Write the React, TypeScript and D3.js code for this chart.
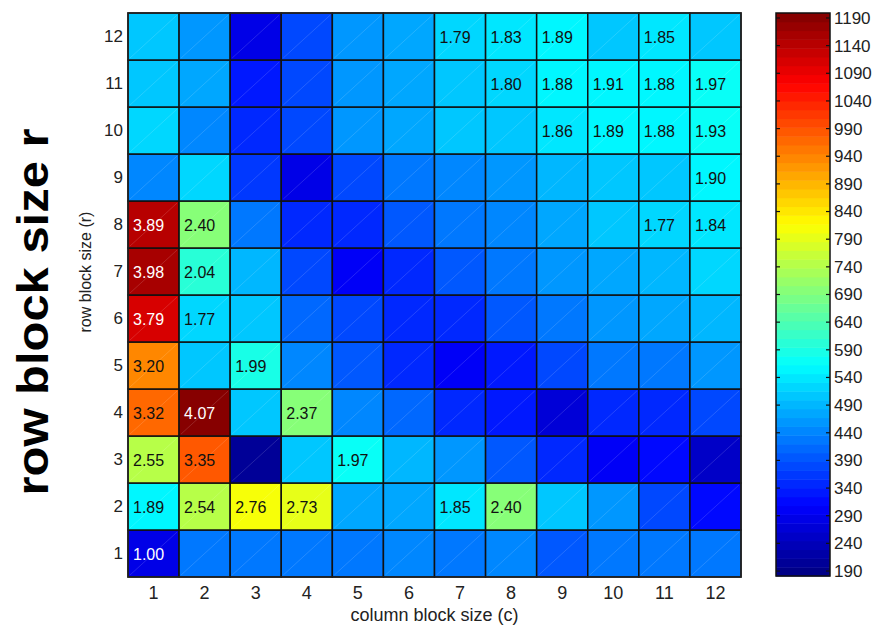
import * as d3 from 'd3';

// block sizes along each axis
const colSizes = [1, 2, 3, 4, 5, 6, 7, 8, 9, 10, 11, 12];
const rowSizes = [1, 2, 3, 4, 5, 6, 7, 8, 9, 10, 11, 12];

// Mflop/s per (r, c), row r = 1 first
const mflops = [
  [292, 422, 422, 422, 430, 440, 430, 440, 394, 422, 422, 422],
  [552, 742, 806, 797, 470, 480, 545, 701, 500, 460, 374, 320],
  [745, 978, 200, 510, 575, 490, 452, 394, 355, 305, 315, 260],
  [969, 1188, 510, 692, 440, 412, 355, 330, 265, 355, 345, 384],
  [934, 510, 581, 440, 400, 355, 300, 335, 374, 420, 430, 452],
  [1107, 517, 515, 412, 374, 355, 355, 394, 422, 462, 470, 490],
  [1162, 596, 495, 374, 305, 355, 394, 430, 452, 480, 485, 520],
  [1136, 701, 430, 355, 345, 400, 420, 440, 480, 512, 517, 537],
  [440, 520, 364, 290, 384, 422, 442, 452, 490, 500, 515, 555],
  [520, 440, 345, 374, 452, 480, 500, 510, 545, 555, 552, 566],
  [515, 480, 335, 374, 452, 475, 500, 526, 552, 560, 552, 577],
  [515, 452, 288, 380, 452, 480, 523, 534, 555, 510, 540, 515],
];

// speedup labels shown in the cells (null = none)
const speedups: (string | null)[][] = [
  ['1.00', null, null, null, null, null, null, null, null, null, null, null],
  ['1.89', '2.54', '2.76', '2.73', null, null, '1.85', '2.40', null, null, null, null],
  ['2.55', '3.35', null, null, '1.97', null, null, null, null, null, null, null],
  ['3.32', '4.07', null, '2.37', null, null, null, null, null, null, null, null],
  ['3.20', null, '1.99', null, null, null, null, null, null, null, null, null],
  ['3.79', '1.77', null, null, null, null, null, null, null, null, null, null],
  ['3.98', '2.04', null, null, null, null, null, null, null, null, null, null],
  ['3.89', '2.40', null, null, null, null, null, null, null, null, '1.77', '1.84'],
  [null, null, null, null, null, null, null, null, null, null, null, '1.90'],
  [null, null, null, null, null, null, null, null, '1.86', '1.89', '1.88', '1.93'],
  [null, null, null, null, null, null, null, '1.80', '1.88', '1.91', '1.88', '1.97'],
  [null, null, null, null, null, null, '1.79', '1.83', '1.89', null, '1.85', null],
];

const colorTicks = [190, 240, 290, 340, 390, 440, 490, 540, 590, 640, 690, 740, 790, 840, 890, 940, 990, 1040, 1090, 1140, 1190];
const cMin = 181;
const cMax = 1199;
const nLevels = 64;

const FONT = '"Liberation Sans", Arial, Helvetica, sans-serif';

const clamp = (v: number) => Math.max(0, Math.min(1, v));
const jet = (t: number) => {
  const r = clamp(1.5 - Math.abs(4 * t - 3));
  const g = clamp(1.5 - Math.abs(4 * t - 2));
  const b = clamp(1.5 - Math.abs(4 * t - 1));
  return d3.rgb(r * 255, g * 255, b * 255).formatHex();
};
const levelOf = (v: number) => {
  const t = (v - cMin) / (cMax - cMin);
  return Math.max(0, Math.min(nLevels - 1, Math.floor(t * nLevels)));
};
const colorOf = (v: number) => jet((levelOf(v) + 0.5) / nLevels);

export default function App() {
  const W = 879;
  const H = 628;
  const plot = { left: 128, right: 741, top: 13, bottom: 577 };
  const bar = { left: 776, right: 830 };

  const x = d3.scaleBand<number>().domain(colSizes).range([plot.left, plot.right]);
  const y = d3.scaleBand<number>().domain([...rowSizes].reverse()).range([plot.top, plot.bottom]);
  const cy = d3.scaleLinear().domain([cMin, cMax]).range([plot.bottom - 1, plot.top]);

  const cells: { r: number; c: number; v: number; label: string | null }[] = [];
  rowSizes.forEach((r, i) => {
    colSizes.forEach((c, j) => {
      cells.push({ r, c, v: mflops[i][j], label: speedups[i][j] });
    });
  });

  const levels = d3.range(nLevels);
  const bandH = (cy(cMin) - cy(cMax)) / nLevels;

  return (
    <svg width={W} height={H} style={{ position: 'absolute', left: 0, top: 0, background: '#fff' }} fontFamily={FONT}>
      {/* heatmap cells */}
      {cells.map((d) => {
        const x0 = x(d.c)!;
        const y0 = y(d.r)!;
        const bw = x.bandwidth();
        const bh = y.bandwidth();
        const light = d.v < 300 || d.v > 1050;
        return (
          <g key={`${d.r}-${d.c}`}>
            <rect x={x0} y={y0} width={bw} height={bh} fill={colorOf(d.v)} stroke="#111" strokeWidth={1.5} />
            <line x1={x0 + 2} y1={y0 + bh - 2} x2={x0 + bw - 2} y2={y0 + 2} stroke="#fff" strokeOpacity={0.18} strokeWidth={0.8} />
            {d.label && (
              <text x={x0 + 5} y={y0 + bh / 2 + 6} fontSize={16} fill={light ? '#fff' : '#111'}>
                {d.label}
              </text>
            )}
          </g>
        );
      })}
      <rect x={plot.left} y={plot.top} width={plot.right - plot.left} height={plot.bottom - plot.top} fill="none" stroke="#222" strokeWidth={1.5} />

      {/* y ticks */}
      {rowSizes.map((r) => (
        <text key={r} x={plot.left - 5} y={y(r)! + y.bandwidth() / 2} dy="0.35em" textAnchor="end" fontSize={17} fill="#222">
          {r}
        </text>
      ))}
      {/* x ticks */}
      {colSizes.map((c) => (
        <text key={c} x={x(c)! + x.bandwidth() / 2} y={599} textAnchor="middle" fontSize={18} fill="#222">
          {c}
        </text>
      ))}
      <text x={(plot.left + plot.right) / 2} y={621} textAnchor="middle" fontSize={18} fill="#222">
        column block size (c)
      </text>
      <text transform={`translate(91,272) rotate(-90)`} textAnchor="middle" fontSize={16} fill="#222">
        row block size (r)
      </text>
      <text
        transform={`translate(48,312) rotate(-90)`}
        textAnchor="middle"
        fontSize={45}
        fontWeight="bold"
        fill="#000"
        textLength={367}
        lengthAdjust="spacingAndGlyphs"
      >
        row block size r
      </text>

      {/* colour bar */}
      {levels.map((l) => (
        <rect
          key={l}
          x={bar.left}
          y={cy(cMin) - (l + 1) * bandH}
          width={bar.right - bar.left}
          height={bandH + 0.5}
          fill={jet((l + 0.5) / nLevels)}
        />
      ))}
      <rect x={bar.left} y={plot.top} width={bar.right - bar.left} height={plot.bottom - 1 - plot.top} fill="none" stroke="#111" strokeWidth={1.5} />
      {colorTicks.map((t) => (
        <g key={t}>
          <line x1={bar.left} x2={bar.left + 4} y1={cy(t)} y2={cy(t)} stroke="#111" strokeWidth={1.2} />
          <line x1={bar.right - 4} x2={bar.right} y1={cy(t)} y2={cy(t)} stroke="#111" strokeWidth={1.2} />
          <text x={bar.right + 4} y={cy(t)} dy="0.35em" fontSize={17} fill="#222">
            {t}
          </text>
        </g>
      ))}
    </svg>
  );
}
